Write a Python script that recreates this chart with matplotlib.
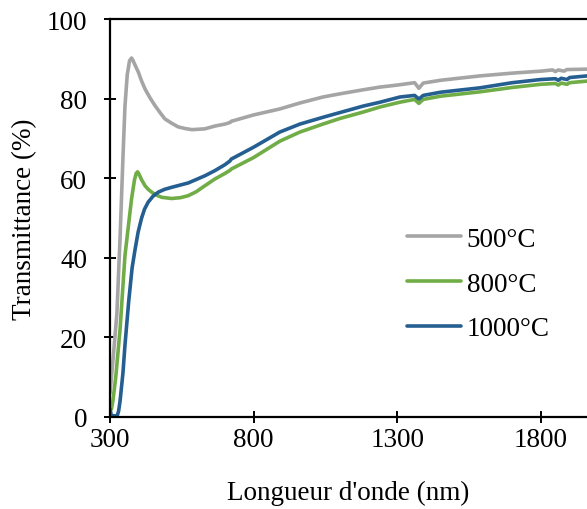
import matplotlib
matplotlib.use('Agg')
import matplotlib.pyplot as plt

# data
wl_500 = [300, 310, 324, 335, 340, 345, 352, 360, 368, 375, 380, 388, 399, 410, 422, 440, 457, 475, 491, 515, 537, 560, 585,
          630, 665, 700, 718, 722, 800, 891, 961, 1041, 1100, 1180, 1240, 1300, 1360, 1375, 1390, 1450, 1587,
          1700, 1800, 1840, 1850, 1860, 1880, 1890, 1960]
t_500 = [6, 14, 26, 45, 55, 65, 78, 86, 89.5, 90.2, 89.6, 88.3, 86.6, 84.4, 82.4, 80.1, 78.2, 76.4, 74.9, 73.8, 72.9, 72.5, 72.2,
         72.4, 73.1, 73.6, 74.0, 74.3, 75.9, 77.4, 78.9, 80.4, 81.2, 82.2, 82.9, 83.4, 84, 82.6, 83.9, 84.6, 85.7,
         86.4, 86.9, 87.2, 86.8, 87.2, 86.9, 87.3, 87.4]

wl_800 = [300, 305, 310, 320, 335, 352, 364, 375, 385, 391, 396, 401, 410, 422, 433, 445, 460, 480, 514, 545, 572, 600, 630,
          665, 700, 718, 722, 800, 891, 961, 1041, 1100, 1180, 1240, 1309, 1360, 1375, 1390, 1450, 1587,
          1700, 1800, 1850, 1860, 1870, 1890, 1900, 1960]
t_800 = [3, 2, 4, 10, 22, 40.5, 48, 54.8, 59.5, 61.2, 61.6, 61, 59.6, 58.1, 57.2, 56.5, 55.8, 55.2, 54.9, 55.1, 55.6, 56.6, 58.1,
         59.8, 61.2, 62.0, 62.3, 65.2, 69.3, 71.6, 73.6, 75.0, 76.6, 77.9, 79.1, 79.8, 78.8, 79.8, 80.6, 81.7,
         82.8, 83.6, 83.8, 83.4, 83.9, 83.6, 84, 84.4]

wl_1000 = [300, 305, 315, 325, 330, 335, 345, 352, 365, 377, 387, 398, 410, 420, 433, 450, 468, 490, 514, 572, 630, 665, 700,
           717, 722, 800, 891, 961, 1041, 1180, 1240, 1309, 1360, 1375, 1390, 1450, 1587, 1700, 1800, 1850, 1860,
           1870, 1890, 1900, 1960]
t_1000 = [2, 0.3, 0.3, 0.3, 1.5, 4, 11, 18, 29, 37.5, 42, 46.5, 50, 52.2, 54, 55.5, 56.5, 57.2, 57.7, 58.8, 60.6, 61.9, 63.4,
          64.3, 64.8, 67.8, 71.6, 73.6, 75.3, 78.1, 79.1, 80.4, 80.8, 79.9, 80.8, 81.6, 82.7, 84, 84.8, 85, 84.6,
          85.1, 84.8, 85.3, 85.7]

labels = ['500°C', '800°C', '1000°C']
colors = ['#A5A5A5', '#70AD47', '#255E91']

plt.rcParams['font.family'] = ['Liberation Serif', 'DejaVu Serif']

fig = plt.figure(figsize=(5.87, 5.10), dpi=100)
ax = fig.add_axes([110/587, 92/510, 1 - 110/587, 398/510])

for x, y, lab, c in zip([wl_500, wl_800, wl_1000], [t_500, t_800, t_1000], labels, colors):
    ax.plot(x, y, color=c, lw=2.6, label=lab, solid_capstyle='round', solid_joinstyle='round')

ax.set_xlim(300, 1960)
ax.set_ylim(0, 100)
ax.set_xticks([300, 800, 1300, 1800])
ax.set_yticks(range(0, 101, 20))
ax.spines['right'].set_visible(False)
for s in ['left', 'bottom', 'top']:
    ax.spines[s].set_linewidth(1.6)
ax.tick_params(direction='inout', length=9, width=1.4, labelsize=19.5)
ax.tick_params(axis='x', pad=3)
ax.tick_params(axis='y', pad=12)

ax.set_xlabel("Longueur d'onde (nm)", fontsize=19.5, labelpad=20)
ax.set_ylabel('Transmittance (%)', fontsize=19.5, labelpad=7)

ax.legend(loc='upper left', bbox_to_anchor=(0.623, 0.478), frameon=False, fontsize=19.5,
          handlelength=2.0, handletextpad=0.2, labelspacing=0.73, borderaxespad=0, borderpad=0)

fig.savefig('out.png', dpi=100)
